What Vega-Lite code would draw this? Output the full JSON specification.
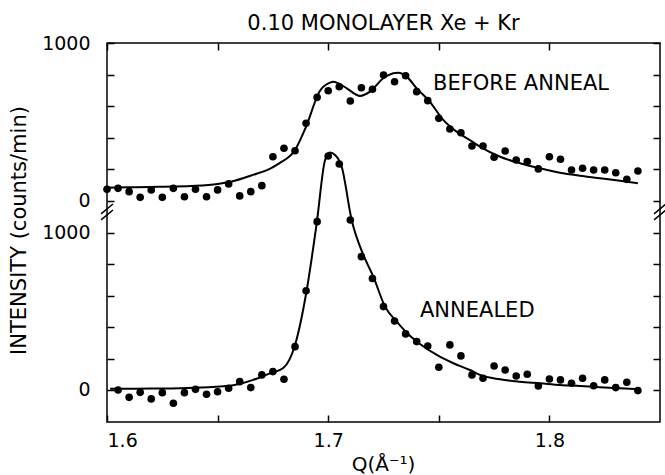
{
  "$schema": "https://vega.github.io/schema/vega-lite/v6.json",
  "width": 553,
  "height": 379,
  "autosize": "none",
  "padding": {"left": 107, "top": 43, "right": 5, "bottom": 53},
  "background": "white",
  "title": {
    "text": "0.10 MONOLAYER Xe + Kr",
    "font": "DejaVu Sans",
    "fontSize": 21,
    "fontWeight": "normal",
    "color": "black",
    "anchor": "middle",
    "baseline": "alphabetic",
    "offset": -17
  },
  "config": {
    "view": {"stroke": "black", "strokeWidth": 1.5},
    "axis": {
      "labelFont": "DejaVu Sans",
      "labelFontSize": 19,
      "labelColor": "black",
      "ticks": false,
      "domain": false,
      "gridColor": "black",
      "gridWidth": 1.5,
      "gridOpacity": 1,
      "titleFont": "DejaVu Sans",
      "titleFontWeight": "normal",
      "titleColor": "black"
    }
  },
  "datasets": {
    "before": [
      {"Q": 1.600, "counts": 74}, {"Q": 1.605, "counts": 80}, {"Q": 1.610, "counts": 59},
      {"Q": 1.615, "counts": 23}, {"Q": 1.620, "counts": 70}, {"Q": 1.625, "counts": 23},
      {"Q": 1.630, "counts": 80}, {"Q": 1.635, "counts": 27}, {"Q": 1.640, "counts": 74},
      {"Q": 1.645, "counts": 27}, {"Q": 1.650, "counts": 70}, {"Q": 1.655, "counts": 108},
      {"Q": 1.660, "counts": 32}, {"Q": 1.665, "counts": 59}, {"Q": 1.670, "counts": 97},
      {"Q": 1.675, "counts": 280}, {"Q": 1.680, "counts": 334}, {"Q": 1.685, "counts": 318},
      {"Q": 1.690, "counts": 492}, {"Q": 1.695, "counts": 656}, {"Q": 1.700, "counts": 698},
      {"Q": 1.705, "counts": 723}, {"Q": 1.710, "counts": 633}, {"Q": 1.715, "counts": 717},
      {"Q": 1.720, "counts": 707}, {"Q": 1.725, "counts": 797}, {"Q": 1.730, "counts": 755},
      {"Q": 1.735, "counts": 793}, {"Q": 1.740, "counts": 692}, {"Q": 1.745, "counts": 635},
      {"Q": 1.750, "counts": 523}, {"Q": 1.755, "counts": 456}, {"Q": 1.760, "counts": 432},
      {"Q": 1.765, "counts": 348}, {"Q": 1.770, "counts": 348}, {"Q": 1.775, "counts": 277},
      {"Q": 1.780, "counts": 316}, {"Q": 1.785, "counts": 259}, {"Q": 1.790, "counts": 249},
      {"Q": 1.795, "counts": 203}, {"Q": 1.800, "counts": 280}, {"Q": 1.805, "counts": 264},
      {"Q": 1.810, "counts": 196}, {"Q": 1.815, "counts": 207}, {"Q": 1.820, "counts": 196},
      {"Q": 1.825, "counts": 196}, {"Q": 1.830, "counts": 179}, {"Q": 1.835, "counts": 137},
      {"Q": 1.840, "counts": 190}
    ],
    "beforeFit": [
      {"Q": 1.600, "counts": 84}, {"Q": 1.610, "counts": 87}, {"Q": 1.620, "counts": 89},
      {"Q": 1.630, "counts": 91}, {"Q": 1.640, "counts": 96}, {"Q": 1.650, "counts": 108},
      {"Q": 1.656, "counts": 122}, {"Q": 1.666, "counts": 165}, {"Q": 1.674, "counts": 207},
      {"Q": 1.678, "counts": 240}, {"Q": 1.685, "counts": 323}, {"Q": 1.690, "counts": 470},
      {"Q": 1.696, "counts": 692}, {"Q": 1.7008, "counts": 749}, {"Q": 1.7023, "counts": 755},
      {"Q": 1.7045, "counts": 745}, {"Q": 1.7084, "counts": 713}, {"Q": 1.7144, "counts": 665},
      {"Q": 1.7189, "counts": 692}, {"Q": 1.7249, "counts": 777}, {"Q": 1.7294, "counts": 808},
      {"Q": 1.7317, "counts": 812}, {"Q": 1.7355, "counts": 787}, {"Q": 1.740, "counts": 713},
      {"Q": 1.746, "counts": 628}, {"Q": 1.752, "counts": 513}, {"Q": 1.758, "counts": 439},
      {"Q": 1.764, "counts": 386}, {"Q": 1.7686, "counts": 344}, {"Q": 1.7777, "counts": 280},
      {"Q": 1.7867, "counts": 239}, {"Q": 1.7957, "counts": 207}, {"Q": 1.8048, "counts": 179},
      {"Q": 1.8138, "counts": 160}, {"Q": 1.8228, "counts": 144}, {"Q": 1.8319, "counts": 128},
      {"Q": 1.840, "counts": 112}
    ],
    "annealed": [
      {"Q": 1.605, "counts": 0}, {"Q": 1.610, "counts": -47}, {"Q": 1.615, "counts": -15},
      {"Q": 1.620, "counts": -57}, {"Q": 1.625, "counts": -17}, {"Q": 1.630, "counts": -85},
      {"Q": 1.635, "counts": -17}, {"Q": 1.640, "counts": 4}, {"Q": 1.645, "counts": -27},
      {"Q": 1.650, "counts": -11}, {"Q": 1.655, "counts": 11}, {"Q": 1.660, "counts": 53},
      {"Q": 1.665, "counts": 15}, {"Q": 1.670, "counts": 96}, {"Q": 1.675, "counts": 117},
      {"Q": 1.680, "counts": 68}, {"Q": 1.685, "counts": 276}, {"Q": 1.690, "counts": 632},
      {"Q": 1.695, "counts": 1072}, {"Q": 1.700, "counts": 1490}, {"Q": 1.705, "counts": 1439},
      {"Q": 1.710, "counts": 1083}, {"Q": 1.715, "counts": 849}, {"Q": 1.720, "counts": 710},
      {"Q": 1.725, "counts": 531}, {"Q": 1.730, "counts": 439}, {"Q": 1.735, "counts": 357},
      {"Q": 1.740, "counts": 308}, {"Q": 1.745, "counts": 280}, {"Q": 1.750, "counts": 145},
      {"Q": 1.755, "counts": 287}, {"Q": 1.760, "counts": 217}, {"Q": 1.765, "counts": 96},
      {"Q": 1.770, "counts": 75}, {"Q": 1.775, "counts": 153}, {"Q": 1.780, "counts": 127},
      {"Q": 1.785, "counts": 89}, {"Q": 1.790, "counts": 100}, {"Q": 1.795, "counts": 25},
      {"Q": 1.800, "counts": 70}, {"Q": 1.805, "counts": 64}, {"Q": 1.810, "counts": 43},
      {"Q": 1.815, "counts": 75}, {"Q": 1.820, "counts": 27}, {"Q": 1.825, "counts": 64},
      {"Q": 1.830, "counts": 15}, {"Q": 1.835, "counts": 49}, {"Q": 1.840, "counts": -4}
    ],
    "annealedFit": [
      {"Q": 1.6014, "counts": 7}, {"Q": 1.620, "counts": 9}, {"Q": 1.633, "counts": 11},
      {"Q": 1.6556, "counts": 27}, {"Q": 1.6661, "counts": 64}, {"Q": 1.6737, "counts": 106},
      {"Q": 1.6797, "counts": 140}, {"Q": 1.685, "counts": 287}, {"Q": 1.6903, "counts": 637},
      {"Q": 1.6948, "counts": 1062}, {"Q": 1.6986, "counts": 1465}, {"Q": 1.7008, "counts": 1512},
      {"Q": 1.7031, "counts": 1497}, {"Q": 1.7061, "counts": 1422}, {"Q": 1.7106, "counts": 1083},
      {"Q": 1.7159, "counts": 860}, {"Q": 1.7204, "counts": 722}, {"Q": 1.7257, "counts": 531},
      {"Q": 1.731, "counts": 435}, {"Q": 1.7362, "counts": 355}, {"Q": 1.7415, "counts": 293},
      {"Q": 1.7491, "counts": 223}, {"Q": 1.7566, "counts": 170}, {"Q": 1.7641, "counts": 127},
      {"Q": 1.7686, "counts": 96}, {"Q": 1.7777, "counts": 68}, {"Q": 1.7867, "counts": 53},
      {"Q": 1.7957, "counts": 43}, {"Q": 1.8048, "counts": 32}, {"Q": 1.8138, "counts": 25},
      {"Q": 1.8228, "counts": 17}, {"Q": 1.8319, "counts": 11}, {"Q": 1.8402, "counts": 4}
    ]
  },
  "layer": [
    {
      "layer": [
        {
          "data": {"name": "before"},
          "mark": {"type": "circle", "color": "black", "size": 58, "opacity": 1},
          "encoding": {
            "x": {"field": "Q", "type": "quantitative",
                  "scale": {"domain": [1.6, 1.85], "nice": false, "zero": false}, "axis": null},
            "y": {"field": "counts", "type": "quantitative",
                  "scale": {"domain": [-1399, 1000], "nice": false, "zero": false},
                  "axis": {"orient": "left", "values": [0, 200, 400, 600, 800, 1000], "labelPadding": 17,
                           "labelBaseline": "middle", "grid": true, "gridDash": [7, 539, 7, 1000],
                           "labelExpr": "datum.value == 0 || datum.value == 1000 ? format(datum.value, 'd') : ''", "title": null}}
          }
        },
        {
          "data": {"name": "beforeFit"},
          "mark": {"type": "line", "color": "black", "strokeWidth": 2, "interpolate": "monotone"},
          "encoding": {
            "x": {"field": "Q", "type": "quantitative", "axis": null},
            "y": {"field": "counts", "type": "quantitative", "axis": null}
          }
        },
        {
          "data": {"values": [{"label": "BEFORE ANNEAL"}]},
          "mark": {"type": "text", "align": "left", "baseline": "alphabetic", "font": "DejaVu Sans", "fontSize": 21, "color": "black"},
          "encoding": {
            "text": {"field": "label"},
            "x": {"datum": 1.7474, "type": "quantitative", "axis": null},
            "y": {"datum": 702, "type": "quantitative", "axis": null}
          }
        },
        {
          "data": {"values": [{}]},
          "mark": {"type": "rule", "color": "black", "strokeWidth": 1.5},
          "encoding": {
            "x": {"datum": 1.5973, "type": "quantitative", "axis": null}, "x2": {"datum": 1.6027},
            "y": {"datum": -82, "type": "quantitative", "axis": null}, "y2": {"datum": -19}
          }
        },
        {
          "data": {"values": [{}]},
          "mark": {"type": "rule", "color": "black", "strokeWidth": 1.5},
          "encoding": {
            "x": {"datum": 1.5973, "type": "quantitative", "axis": null}, "x2": {"datum": 1.6027},
            "y": {"datum": -120, "type": "quantitative", "axis": null}, "y2": {"datum": -57}
          }
        },
        {
          "data": {"values": [{}]},
          "mark": {"type": "rule", "color": "black", "strokeWidth": 1.5},
          "encoding": {
            "x": {"datum": 1.8473, "type": "quantitative", "axis": null}, "x2": {"datum": 1.8527},
            "y": {"datum": -82, "type": "quantitative", "axis": null}, "y2": {"datum": -19}
          }
        },
        {
          "data": {"values": [{}]},
          "mark": {"type": "rule", "color": "black", "strokeWidth": 1.5},
          "encoding": {
            "x": {"datum": 1.8473, "type": "quantitative", "axis": null}, "x2": {"datum": 1.8527},
            "y": {"datum": -120, "type": "quantitative", "axis": null}, "y2": {"datum": -57}
          }
        }
      ],
      "resolve": {"axis": {"x": "independent", "y": "independent"}}
    },
    {
      "layer": [
        {
          "data": {"name": "annealed"},
          "mark": {"type": "circle", "color": "black", "size": 58, "opacity": 1},
          "encoding": {
            "x": {"field": "Q", "type": "quantitative",
                  "scale": {"domain": [1.6, 1.85], "nice": false, "zero": false},
                  "axis": {"orient": "bottom", "values": [1.6, 1.65, 1.7, 1.75, 1.8], "labelPadding": 9,
                           "grid": true, "gridDash": [7, 365, 7, 1000],
                           "labelExpr": "datum.value == 1.6 || datum.value == 1.7 || datum.value == 1.8 ? format(datum.value, '.1f') : ''",
                           "title": "Q(Å⁻¹)", "titleFontSize": 20, "titleX": 276, "titleY": 48, "titleBaseline": "alphabetic"}},
            "y": {"field": "counts", "type": "quantitative",
                  "scale": {"domain": [-204, 2210], "nice": false, "zero": false},
                  "axis": {"orient": "left", "values": [0, 200, 400, 600, 800, 1000], "labelPadding": 17,
                           "labelBaseline": "middle", "grid": true, "gridDash": [7, 539, 7, 1000],
                           "labelExpr": "datum.value == 0 || datum.value == 1000 ? format(datum.value, 'd') : ''",
                           "title": "INTENSITY (counts/min)", "titleFontSize": 21, "titleX": -88, "titleY": 187,
                           "titleAngle": 270, "titleAlign": "center", "titleBaseline": "middle"}}
          }
        },
        {
          "data": {"name": "annealedFit"},
          "mark": {"type": "line", "color": "black", "strokeWidth": 2, "interpolate": "monotone"},
          "encoding": {
            "x": {"field": "Q", "type": "quantitative", "axis": null},
            "y": {"field": "counts", "type": "quantitative", "axis": null}
          }
        },
        {
          "data": {"values": [{"label": "ANNEALED"}]},
          "mark": {"type": "text", "align": "left", "baseline": "alphabetic", "font": "DejaVu Sans", "fontSize": 21, "color": "black"},
          "encoding": {
            "text": {"field": "label"},
            "x": {"datum": 1.7415, "type": "quantitative", "axis": null},
            "y": {"datum": 465, "type": "quantitative", "axis": null}
          }
        }
      ],
      "resolve": {"axis": {"x": "independent", "y": "independent"}}
    }
  ],
  "resolve": {"scale": {"y": "independent"}, "axis": {"x": "independent", "y": "independent"}}
}
